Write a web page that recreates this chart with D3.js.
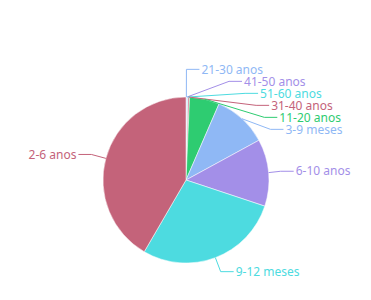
<!DOCTYPE html>
<html>
<head>
<meta charset="utf-8">
<script src="https://cdn.jsdelivr.net/npm/d3@7"></script>
<style>
  body { margin: 0; background: #fff; }
  text { font-family: "Noto Sans", "DejaVu Sans", sans-serif; font-size: 12px; }
</style>
</head>
<body>
<div id="chart"></div>
<script>
// faixas etárias, in data order (clockwise from 12 o'clock)
var labels = ["21-30 anos", "41-50 anos", "51-60 anos", "31-40 anos", "11-20 anos",
              "3-9 meses", "6-10 anos", "9-12 meses", "2-6 anos"]
var values = [1, 1, 1, 2, 42, 76, 94, 204, 300]
var palette = ["#8fb8f5", "#a38fe8", "#4ddbe0", "#c4637a", "#2ecc71"]

const width = 371, height = 300
const cx = 186, cy = 180, r = 83
const len1 = 15, len2 = 13, gap = 2, lineH = 12

var svg = d3.select("#chart")
    .append("svg")
    .attr("width", width)
    .attr("height", height)

var g = svg.append("g")
    .attr("transform", `translate(${cx},${cy})`)

const color = d3.scaleOrdinal()
    .domain(labels)
    .range(palette)

const pie = d3.pie().sort(null).value(d => d.value)
const arcs = pie(labels.map((l, i) => ({ label: l, value: values[i] })))

const arc = d3.arc().innerRadius(0).outerRadius(r)

g.selectAll("path.slice")
    .data(arcs)
    .enter().append("path")
    .attr("class", "slice")
    .attr("d", arc)
    .attr("fill", d => color(d.data.label))
    .attr("stroke", "#fff")
    .attr("stroke-width", 0.5)

// label layout, roughly like echarts: radial then horizontal, push overlaps apart
var items = arcs.map(d => {
    const a = (d.startAngle + d.endAngle) / 2
    return {
        d: d, a: a,
        side: Math.sin(a) >= 0 ? 1 : -1,
        x0: Math.sin(a) * r, y0: -Math.cos(a) * r,
        x: Math.sin(a) * (r + len1), y: -Math.cos(a) * (r + len1)
    }
})

;[1, -1].forEach(side => {
    var list = items.filter(t => t.side === side).sort((a, b) => a.y - b.y)
    if (list.length < 2) return
    var shifts = [], last = -Infinity
    list.forEach(t => {
        var s = Math.max(0, last + lineH - t.y)
        t.y += s
        shifts.push(s)
        last = t.y
    })
    // balance clusters that got pushed
    var i = 0
    while (i < list.length) {
        var j = i + 1
        while (j < list.length && shifts[j] > 0) j++
        if (j - i > 1) {
            var mean = d3.mean(shifts.slice(i, j))
            for (var k = i; k < j; k++) list[k].y -= mean / 2
        }
        i = j
    }
    // align shifted labels on an ellipse (top half only)
    var top = list.filter(t => t.y < 0)
    if (top.length > 1) {
        var t0 = top[0]
        var rA = r + len1 - 3
        var dx0 = Math.abs(t0.x)
        var rB = dx0 < rA ? Math.abs(t0.y) / Math.sqrt(1 - dx0 * dx0 / rA / rA) : rA
        top.forEach(t => {
            var q = 1 - t.y * t.y / rB / rB
            t.x = side * Math.sqrt(Math.max(0, q)) * rA
        })
    }
})

var lab = g.append("g")
    .selectAll("g")
    .data(items)
    .enter().append("g")

lab.append("polyline")
    .attr("fill", "none")
    .attr("stroke", d => color(d.d.data.label))
    .attr("stroke-width", 1)
    .attr("points", d => [[d.x0, d.y0], [d.x, d.y], [d.x + d.side * len2, d.y]].join(" "))

lab.append("text")
    .attr("x", d => d.x + d.side * (len2 + gap))
    .attr("y", d => d.y)
    .attr("dy", "0.35em")
    .attr("text-anchor", d => d.side > 0 ? "start" : "end")
    .attr("fill", d => color(d.d.data.label))
    .text(d => d.d.data.label)
</script>
</body>
</html>
